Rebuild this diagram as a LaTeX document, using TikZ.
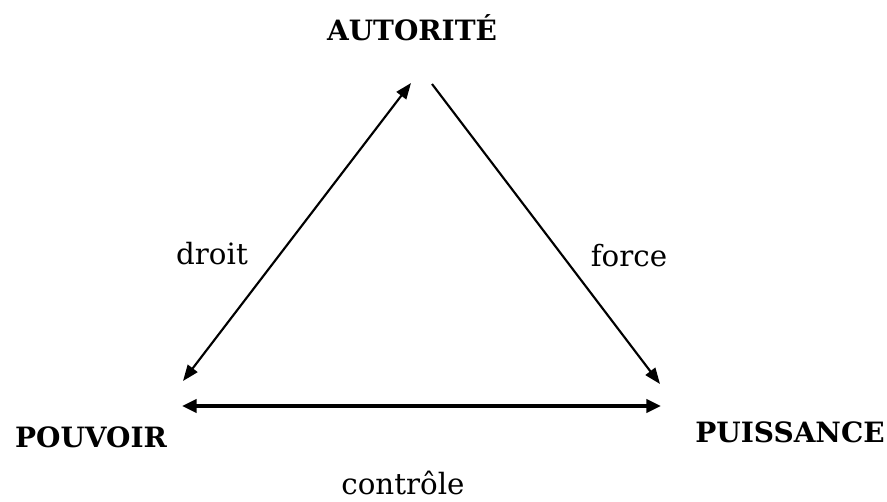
\documentclass[tikz,border=0pt]{standalone}
\usepackage{fontspec}
\setmainfont{DejaVu Serif}
\usetikzlibrary{arrows.meta}

\begin{document}
\begin{tikzpicture}[x=0.75pt,y=-0.75pt,
  pole/.style={font=\fontsize{21}{25}\selectfont\bfseries,inner sep=0pt},
  lien/.style={font=\fontsize{22}{26}\selectfont,inner sep=0pt},
  fleche/.style={line width=1.6pt,-{Triangle[length=12pt,width=9pt]}}
]
\useasboundingbox (0,0) rectangle (887,502);
\node[pole] (aut) at (412,28) {AUTORITÉ};
\node[pole] (pou) at (91,437) {POUVOIR};
\node[pole] (pui) at (790,432) {PUISSANCE};
\node[lien] (dro) at (212,254) {droit};
\node[lien] (for) at (629,256) {force};
\node[lien] (con) at (403,483) {contrôle};
% sommets du triangle
\coordinate (hautG) at (411,83);
\coordinate (hautD) at (432,84);
\coordinate (basG) at (183,381);
\coordinate (basD) at (660,384);
\coordinate (ligneG) at (182,406);
\coordinate (ligneD) at (661,406);
\draw[fleche,{Triangle[length=12pt,width=9pt]}-{Triangle[length=12pt,width=9pt]}] (basG)--(hautG);
\draw[fleche] (hautD)--(basD);
\draw[fleche,line width=2.5pt,{Triangle[length=11pt,width=10pt]}-{Triangle[length=11pt,width=10pt]}] (ligneG)--(ligneD);
\end{tikzpicture}
\end{document}
